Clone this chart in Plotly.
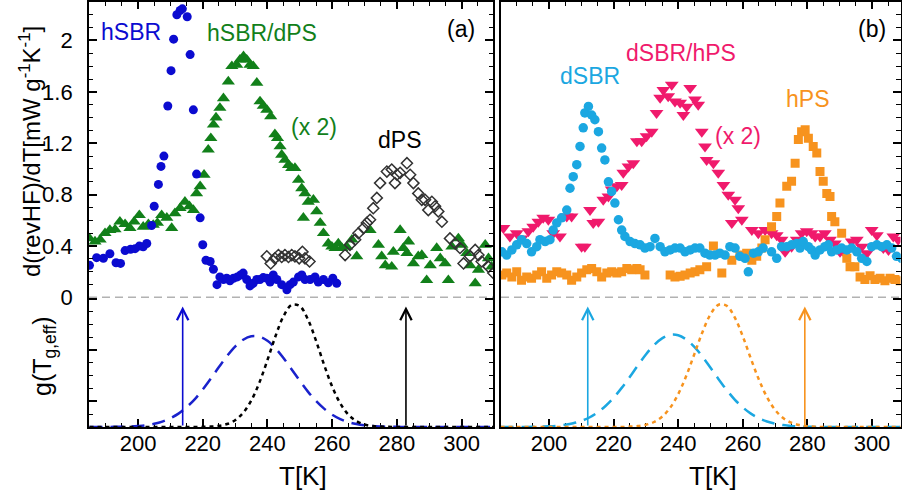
import plotly.graph_objects as go

# ---------------- data ----------------
# panel (a): hSBR
HSBR_T = [185.0, 187.2, 189.3, 191.3, 193.2, 194.6, 196.0, 197.7, 199.1, 200.4, 201.6, 202.7, 204.2, 205.0,
          206.3, 207.1, 208.0, 209.2, 210.2, 211.0, 212.0, 213.0, 213.7, 215.2, 216.1, 217.1, 218.1, 219.2,
          220.0, 221.0, 222.3, 223.3, 224.4, 225.3, 226.4, 227.4, 228.4, 229.5, 230.7, 231.7, 232.5, 233.6,
          234.6, 235.6, 236.7, 237.7, 238.7, 239.8, 240.8, 241.8, 242.9, 244.4, 246.0, 247.0, 248.0, 249.6,
          250.6, 251.6, 253.2, 254.7, 255.7, 257.3, 258.8, 260.2, 261.4]
HSBR_V = [0.25, 0.31, 0.305, 0.34, 0.27, 0.265, 0.365, 0.375, 0.38, 0.40, 0.395, 0.42, 0.56, 0.71,
          0.88, 1.02, 1.10, 1.49, 1.765, 2.01, 2.20, 2.233, 2.246, 2.184, 1.89, 1.46, 0.96, 0.62,
          0.41, 0.29, 0.28, 0.22, 0.10, 0.16, 0.14, 0.15, 0.13, 0.15, 0.16, 0.175, 0.19, 0.14,
          0.09, 0.11, 0.14, 0.14, 0.155, 0.15, 0.12, 0.175, 0.14, 0.10, 0.06, 0.10, 0.12, 0.16,
          0.175, 0.14, 0.14, 0.16, 0.12, 0.14, 0.115, 0.15, 0.11]

# panel (a): hSBR/dPS (x 2)
HSBRDPS_T = [185.0, 186.7, 188.3, 189.8, 191.3, 192.9, 194.4, 196.0, 197.5, 198.8, 200.4, 201.6, 203.2, 204.7,
             206.0, 207.3, 208.9, 210.4, 211.4, 213.0, 214.5, 215.9, 217.1, 218.1, 219.2, 220.4, 221.7, 222.5,
             223.3, 224.1, 225.3, 226.4, 227.9, 229.0, 230.5, 231.5, 232.6, 233.6, 234.6, 235.6, 236.7, 237.7,
             238.7, 239.8, 241.0, 242.3, 243.1, 243.9, 244.4, 245.4, 246.5, 247.5, 248.5, 249.6, 250.6, 251.6,
             252.6, 254.2, 251.1, 255.2, 256.3, 257.3, 258.8, 259.9, 260.9, 261.9, 263.0, 264.5, 266.1, 267.6,
             271.7, 274.3, 275.3, 276.4, 278.4, 278.9, 281.0, 282.0, 283.1, 283.6, 285.1, 286.6, 287.7, 289.2,
             290.3, 292.3, 293.4, 294.9, 295.9, 297.0, 299.0, 300.1, 301.6, 302.6, 304.2, 305.2, 307.3, 308.3,
             309.3]
HSBRDPS_V = [0.46, 0.435, 0.45, 0.50, 0.525, 0.53, 0.59, 0.57, 0.54, 0.59, 0.64, 0.55, 0.57, 0.565,
             0.58, 0.64, 0.62, 0.54, 0.655, 0.695, 0.745, 0.71, 0.68, 0.81, 0.865, 0.955, 1.15, 1.24,
             1.345, 1.40, 1.475, 1.55, 1.68, 1.80, 1.81, 1.85, 1.877, 1.85, 1.81, 1.80, 1.67, 1.525,
             1.49, 1.46, 1.41, 1.27, 1.24, 1.175, 1.11, 1.07, 1.03, 1.007, 1.007, 0.915, 0.85, 0.81,
             0.745, 0.76, 0.62, 0.67, 0.58, 0.50, 0.42, 0.395, 0.385, 0.42, 0.385, 0.395, 0.45, 0.32,
             0.525, 0.41, 0.32, 0.25, 0.24, 0.355, 0.525, 0.385, 0.345, 0.435, 0.265, 0.32, 0.33, 0.135,
             0.25, 0.385, 0.305, 0.265, 0.135, 0.395, 0.46, 0.41, 0.345, 0.25, 0.11, 0.215, 0.41, 0.305,
             0.24]

# panel (a): dPS
DPS_T = [239.8, 241.0, 242.3, 243.4, 244.4, 245.4, 246.5, 247.5, 248.5, 249.8, 250.8, 251.6, 253.0,
         264.0, 265.5, 267.1, 268.1, 269.7, 270.7, 271.7, 272.7, 273.8, 274.8, 276.9, 278.4, 279.4, 280.0,
         281.0, 283.1, 284.1, 285.1, 286.6, 287.7, 288.7, 289.7, 290.8, 291.8, 292.8, 293.9, 296.4, 298.0,
         299.5, 300.6, 302.6, 304.2, 305.2, 306.2, 308.3, 309.8]
DPS_V = [0.32, 0.265, 0.305, 0.33, 0.315, 0.33, 0.315, 0.33, 0.32, 0.305, 0.355, 0.305, 0.28,
         0.33, 0.41, 0.45, 0.50, 0.54, 0.58, 0.605, 0.695, 0.775, 0.89, 0.98, 0.995, 0.89, 0.955,
         0.97, 1.045, 0.955, 0.89, 0.81, 0.76, 0.76, 0.68, 0.745, 0.71, 0.67, 0.59, 0.46, 0.42,
         0.385, 0.265, 0.32, 0.37, 0.33, 0.28, 0.24, 0.19]

# panel (b): dSBR
DSBR_T = [185.4, 186.9, 188.5, 190.0, 191.5, 193.1, 194.6, 196.2, 197.2, 198.8,
          200.3, 201.3, 202.4, 203.9, 205.5, 206.5, 207.5, 208.6, 209.6, 210.6,
          211.1, 212.2, 213.2, 214.2, 215.3, 216.3, 217.3, 218.4, 219.4, 220.4,
          221.5, 222.5, 223.5, 225.1, 226.6, 228.2, 229.7, 231.3, 232.8, 234.4,
          235.9, 237.5, 239.0, 240.6, 242.1, 243.7, 245.2, 246.7, 248.3, 249.8,
          251.4, 252.9, 254.5, 256.0, 257.6, 259.1, 260.7, 261.7, 263.3, 264.8,
          266.3, 268.9, 270.5, 272.0, 273.6, 275.1, 276.7, 277.7, 278.7, 280.3,
          281.3, 282.4, 283.9, 285.4, 286.5, 287.5, 289.1, 290.6, 292.2, 293.7,
          295.3, 296.8, 298.4, 299.9, 301.5, 303.0, 304.6, 306.1, 307.6, 309.2]
DSBR_V = [0.355, 0.33, 0.37, 0.41, 0.45, 0.42, 0.355, 0.395, 0.45, 0.435,
          0.45, 0.525, 0.58, 0.62, 0.68, 0.85, 0.94, 1.033, 1.175, 1.32,
          1.436, 1.487, 1.42, 1.383, 1.29, 1.163, 1.07, 0.90, 0.825, 0.735,
          0.605, 0.525, 0.475, 0.435, 0.42, 0.41, 0.385, 0.395, 0.46, 0.395,
          0.355, 0.37, 0.385, 0.385, 0.355, 0.37, 0.385, 0.385, 0.345, 0.33,
          0.33, 0.345, 0.33, 0.395, 0.385, 0.32, 0.305, 0.20, 0.345, 0.355,
          0.385, 0.355, 0.305, 0.395, 0.395, 0.41, 0.42, 0.385, 0.435, 0.395,
          0.37, 0.33, 0.37, 0.395, 0.41, 0.355, 0.37, 0.385, 0.37, 0.385,
          0.355, 0.305, 0.28, 0.395, 0.41, 0.395, 0.41, 0.385, 0.32, 0.305]

# panel (b): dSBR/hPS (x 2)
DSBRHPS_T = [185.9, 187.9, 190.0, 191.5, 193.6, 195.1, 196.7, 198.2, 199.8, 201.3,
             203.4, 205.5, 207.0, 210.1, 211.1, 212.7, 213.7, 215.3, 216.8, 218.4,
             219.4, 221.0, 222.5, 223.0, 224.6, 226.1, 227.2, 228.7, 230.2, 231.8,
             233.3, 234.4, 235.4, 236.9, 238.0, 239.0, 240.6, 241.6, 242.6, 243.7,
             245.2, 246.2, 247.3, 248.3, 248.8, 250.9, 252.4, 254.0, 255.5, 257.6,
             258.6, 259.7, 256.6, 262.8, 264.8, 266.9, 268.9, 270.5, 272.0, 273.1,
             275.1, 276.7, 278.2, 279.8, 281.3, 282.4, 283.9, 285.4, 287.0, 288.5,
             290.1, 291.6, 293.7, 295.3, 296.8, 298.4, 299.9, 301.5, 303.5, 305.1,
             306.6, 308.1]
DSBRHPS_V = [0.54, 0.475, 0.50, 0.46, 0.515, 0.55, 0.59, 0.62, 0.605, 0.50,
             0.475, 0.63, 0.63, 0.395, 0.395, 0.68, 0.58, 0.59, 0.76, 0.785,
             0.84, 0.865, 0.875, 0.97, 1.02, 1.045, 1.215, 1.215, 1.255, 1.29,
             1.435, 1.555, 1.615, 1.565, 1.655, 1.525, 1.515, 1.42, 1.485, 1.63,
             1.54, 1.50, 1.29, 1.175, 1.07, 1.045, 0.97, 0.875, 0.80, 0.76,
             0.695, 0.605, 0.58, 0.525, 0.50, 0.525, 0.50, 0.485, 0.45, 0.355,
             0.395, 0.45, 0.50, 0.515, 0.50, 0.475, 0.475, 0.50, 0.45, 0.42,
             0.355, 0.345, 0.435, 0.45, 0.395, 0.345, 0.525, 0.485, 0.385, 0.37,
             0.475, 0.45]

# panel (b): hPS
HPS_T = [185.4, 186.9, 188.5, 190.0, 191.5, 193.1, 194.6, 196.2, 197.7, 199.3,
         200.8, 202.4, 203.9, 205.5, 207.0, 208.6, 210.1, 211.7, 213.2, 214.8,
         216.3, 217.9, 219.4, 221.0, 222.5, 224.1, 225.6, 227.2, 228.2, 229.7,
         237.5, 239.0, 240.6, 242.1, 243.7, 245.2, 246.7, 248.8, 250.9, 253.5,
         256.6, 259.1, 261.2, 262.8, 264.3, 265.9, 266.9, 268.9, 270.5, 271.5,
         273.6, 275.1, 276.2, 277.2, 278.2, 279.3, 280.3, 281.8, 282.9, 283.9,
         284.9, 286.0, 287.0, 287.5, 288.5, 290.6, 292.2, 293.2, 294.7, 296.3,
         297.8, 299.4, 300.9, 302.5, 304.0, 305.6, 307.1, 308.7]
HPS_V = [0.175, 0.19, 0.16, 0.20, 0.135, 0.16, 0.15, 0.175, 0.20, 0.15,
         0.175, 0.20, 0.19, 0.175, 0.135, 0.16, 0.19, 0.215, 0.225, 0.20,
         0.16, 0.19, 0.20, 0.19, 0.20, 0.225, 0.215, 0.225, 0.215, 0.175,
         0.175, 0.16, 0.165, 0.175, 0.19, 0.20, 0.215, 0.24, 0.40, 0.19,
         0.29, 0.33, 0.345, 0.29, 0.32, 0.385, 0.45, 0.55, 0.63, 0.735,
         0.865, 0.905, 1.045, 1.23, 1.29, 1.305, 1.24, 1.175, 1.125, 0.98,
         0.905, 0.81, 0.785, 0.63, 0.59, 0.50, 0.305, 0.24, 0.24, 0.16,
         0.14, 0.17, 0.14, 0.15, 0.13, 0.15, 0.14, 0.13]

G_T = [185 + 2.5 * i for i in range(51)]
G_HSBRDPS = [0, 0, 0.0005, 0.001, 0.002, 0.004, 0.008, 0.014, 0.025, 0.042, 0.068, 0.104, 0.154, 0.216,
             0.292, 0.377, 0.467, 0.553, 0.627, 0.680, 0.707, 0.704, 0.672, 0.613, 0.536, 0.449, 0.360,
             0.276, 0.203, 0.143, 0.096, 0.062, 0.038, 0.023, 0.013, 0.007, 0.004, 0.002, 0.001,
             0, 0, 0, 0, 0, 0, 0, 0, 0, 0, 0, 0]
G_DPS = [0, 0, 0, 0, 0, 0, 0, 0, 0, 0, 0, 0, 0, 0,
         0.001, 0.003, 0.009, 0.023, 0.053, 0.111, 0.206, 0.346, 0.522, 0.709, 0.866, 0.952, 0.942,
         0.839, 0.673, 0.485, 0.315, 0.184, 0.096, 0.046, 0.019, 0.007, 0.003, 0.001,
         0, 0, 0, 0, 0, 0, 0, 0, 0, 0, 0, 0, 0]
G_DSBRHPS = [0, 0, 0, 0.0006, 0.001, 0.003, 0.005, 0.009, 0.017, 0.029, 0.047, 0.074, 0.113, 0.164,
             0.228, 0.305, 0.39, 0.480, 0.565, 0.638, 0.691, 0.718, 0.715, 0.682, 0.625, 0.549, 0.462,
             0.373, 0.289, 0.214, 0.153, 0.104, 0.068, 0.043, 0.026, 0.015, 0.008, 0.004, 0.002,
             0, 0, 0, 0, 0, 0, 0, 0, 0, 0, 0, 0]
G_HPS = [0, 0, 0, 0, 0, 0, 0, 0, 0, 0, 0, 0, 0, 0, 0, 0,
         0.003, 0.007, 0.017, 0.039, 0.080, 0.15, 0.256, 0.399, 0.568, 0.739, 0.878, 0.953, 0.945,
         0.854, 0.706, 0.533, 0.368, 0.232, 0.133, 0.07, 0.034, 0.015, 0.006, 0.002,
         0, 0, 0, 0, 0, 0, 0, 0, 0, 0, 0]

# Tg markers (arrows) in the lower panels
ARROWS_A = [213.8, 282.8]
ARROWS_B = [212.0, 279.2]
ARROW_TOP = 0.94

# tick settings
X_TICKS = [200, 220, 240, 260, 280, 300]

# ---------------- styling ----------------
W, H = 902, 499
FONT = "Liberation Sans, Arial, sans-serif"
BLUE = "#0b0bd0"
GREEN = "#12801a"
GREY = "#333333"
CYAN = "#1ba7e1"
PINK = "#f01a6c"
ORANGE = "#f7931e"


def px(x):
    return x / W


def py(y):
    return 1 - y / H


fig = go.Figure()

# upper left
fig.add_trace(go.Scatter(x=HSBRDPS_T, y=HSBRDPS_V, mode="markers", xaxis="x", yaxis="y",
                         marker=dict(symbol="triangle-up", size=11.5, color=GREEN)))
fig.add_trace(go.Scatter(x=DPS_T, y=DPS_V, mode="markers", xaxis="x", yaxis="y",
                         marker=dict(symbol="diamond-open", size=8.5, color=GREY, line=dict(width=1.5, color=GREY))))
fig.add_trace(go.Scatter(x=HSBR_T, y=HSBR_V, mode="markers", xaxis="x", yaxis="y",
                         marker=dict(symbol="circle", size=9, color=BLUE)))
# upper right
fig.add_trace(go.Scatter(x=DSBRHPS_T, y=DSBRHPS_V, mode="markers", xaxis="x2", yaxis="y2",
                         marker=dict(symbol="triangle-down", size=12, color=PINK)))
fig.add_trace(go.Scatter(x=HPS_T, y=HPS_V, mode="markers", xaxis="x2", yaxis="y2",
                         marker=dict(symbol="square", size=9, color=ORANGE)))
fig.add_trace(go.Scatter(x=DSBR_T, y=DSBR_V, mode="markers", xaxis="x2", yaxis="y2",
                         marker=dict(symbol="circle", size=9.5, color=CYAN)))
# lower left
fig.add_trace(go.Scatter(x=G_T, y=G_HSBRDPS, mode="lines", xaxis="x3", yaxis="y3", line_shape="spline",
                         line=dict(color="#1a22cc", width=2.5, dash="13px,8px")))
fig.add_trace(go.Scatter(x=G_T, y=G_DPS, mode="lines", xaxis="x3", yaxis="y3", line_shape="spline",
                         line=dict(color="black", width=2.5, dash="4px,4px")))
# lower right
fig.add_trace(go.Scatter(x=G_T, y=G_DSBRHPS, mode="lines", xaxis="x4", yaxis="y4", line_shape="spline",
                         line=dict(color=CYAN, width=2.5, dash="13px,8px")))
fig.add_trace(go.Scatter(x=G_T, y=G_HPS, mode="lines", xaxis="x4", yaxis="y4", line_shape="spline",
                         line=dict(color=ORANGE, width=2.5, dash="4px,4px")))

LEFT_DOM = [px(89), px(493)]
RIGHT_DOM = [px(501), px(900.5)]
UP_DOM = [py(297.5), py(1.5)]
LOW_DOM = [py(427), py(297.5)]
LEFT_RANGE = [184.85, 309.7]
RIGHT_RANGE = [185.14, 308.82]
UP_RANGE = [0, 2.303]
LOW_RANGE = [0, 1.0094]

common = dict(showline=True, linecolor="black", linewidth=1.8, ticks="inside", tickcolor="black",
              tickwidth=1.5, showgrid=False, zeroline=False, automargin=False,
              tickfont=dict(size=22, color="black", family=FONT))
xcommon = dict(common, tickvals=X_TICKS, ticklen=8,
               minor=dict(dtick=5, tick0=200, ticklen=4.5, ticks="inside", tickcolor="black", tickwidth=1.2))
ycommon = dict(common, ticklen=8,
               minor=dict(dtick=0.1, tick0=0, ticklen=4.5, ticks="inside", tickcolor="black", tickwidth=1.2))

fig.update_layout(
    width=W, height=H, margin=dict(l=0, r=0, t=0, b=0, autoexpand=False),
    paper_bgcolor="white", plot_bgcolor="white", showlegend=False,
    font=dict(family=FONT, color="black"),
    xaxis=dict(xcommon, domain=LEFT_DOM, range=LEFT_RANGE, anchor="y", side="top", showticklabels=False),
    yaxis=dict(ycommon, domain=UP_DOM, range=UP_RANGE, anchor="x", mirror="ticks", dtick=0.4, tick0=0,
               ticklabelstandoff=10),
    xaxis2=dict(xcommon, domain=RIGHT_DOM, range=RIGHT_RANGE, anchor="y2", side="top", showticklabels=False),
    yaxis2=dict(ycommon, domain=UP_DOM, range=UP_RANGE, anchor="x2", side="right", mirror=True,
                dtick=0.4, tick0=0, showticklabels=False),
    xaxis3=dict(xcommon, domain=LEFT_DOM, range=LEFT_RANGE, anchor="y3", side="bottom", layer="below traces",
                ticklabelstandoff=-4),
    yaxis3=dict(ycommon, domain=LOW_DOM, range=LOW_RANGE, anchor="x3", mirror="ticks", dtick=0.4, tick0=0.2,
                showticklabels=False),
    xaxis4=dict(xcommon, domain=RIGHT_DOM, range=RIGHT_RANGE, anchor="y4", side="bottom", layer="below traces",
                ticklabelstandoff=-4),
    yaxis4=dict(ycommon, domain=LOW_DOM, range=LOW_RANGE, anchor="x4", side="right", mirror=True,
                dtick=0.4, tick0=0.2, showticklabels=False),
)

# dashed zero lines
for xr, yr in (("x", "y"), ("x2", "y2")):
    fig.add_shape(type="line", xref=f"{xr} domain", yref=yr, x0=0, x1=1, y0=0, y1=0,
                  line=dict(color="#666666", width=1.5, dash="8px,5px"))

# arrows
for t, col in zip(ARROWS_A, [BLUE, "black"]):
    fig.add_annotation(x=t, y=ARROW_TOP, ax=t, ay=0, xref="x3", yref="y3", axref="x3", ayref="y3",
                       text="", showarrow=True, arrowhead=5, arrowsize=1.4, arrowwidth=1.6, arrowcolor=col)
for t, col in zip(ARROWS_B, [CYAN, ORANGE]):
    fig.add_annotation(x=t, y=ARROW_TOP, ax=t, ay=0, xref="x4", yref="y4", axref="x4", ayref="y4",
                       text="", showarrow=True, arrowhead=5, arrowsize=1.4, arrowwidth=1.6, arrowcolor=col)

# text labels
labels = [
    ("hSBR", 131, 32, BLUE), ("hSBR/dPS", 262, 33, GREEN), ("(x 2)", 314, 127, GREEN),
    ("dPS", 399, 140, "black"), ("(a)", 461, 29, "black"),
    ("dSBR", 590, 76, CYAN), ("dSBR/hPS", 681, 53, PINK), ("(x 2)", 738, 136, PINK),
    ("hPS", 807, 99, ORANGE), ("(b)", 872, 29, "black"),
]
for txt, x, y, col in labels:
    fig.add_annotation(x=px(x), y=py(y), xref="paper", yref="paper", text=txt, showarrow=False,
                       xanchor="center", yanchor="middle", font=dict(size=23, color=col, family=FONT))

# axis titles
fig.add_annotation(x=px(30), y=py(152), xref="paper", yref="paper", showarrow=False, textangle=-90,
                   text="d(revHF)/dT[mW g<sup>-1</sup>K<sup>-1</sup>]", xanchor="center", yanchor="middle",
                   font=dict(size=24, color="black", family=FONT))
fig.add_annotation(x=px(44), y=py(356), xref="paper", yref="paper", showarrow=False, textangle=-90,
                   text="g(T<sub>g,eff</sub>)", xanchor="center", yanchor="middle",
                   font=dict(size=25, color="black", family=FONT))
for x in (303, 713):
    fig.add_annotation(x=px(x), y=py(476), xref="paper", yref="paper", showarrow=False, text="T[K]",
                       xanchor="center", yanchor="middle", font=dict(size=26, color="black", family=FONT))

fig.write_html("out.html")
